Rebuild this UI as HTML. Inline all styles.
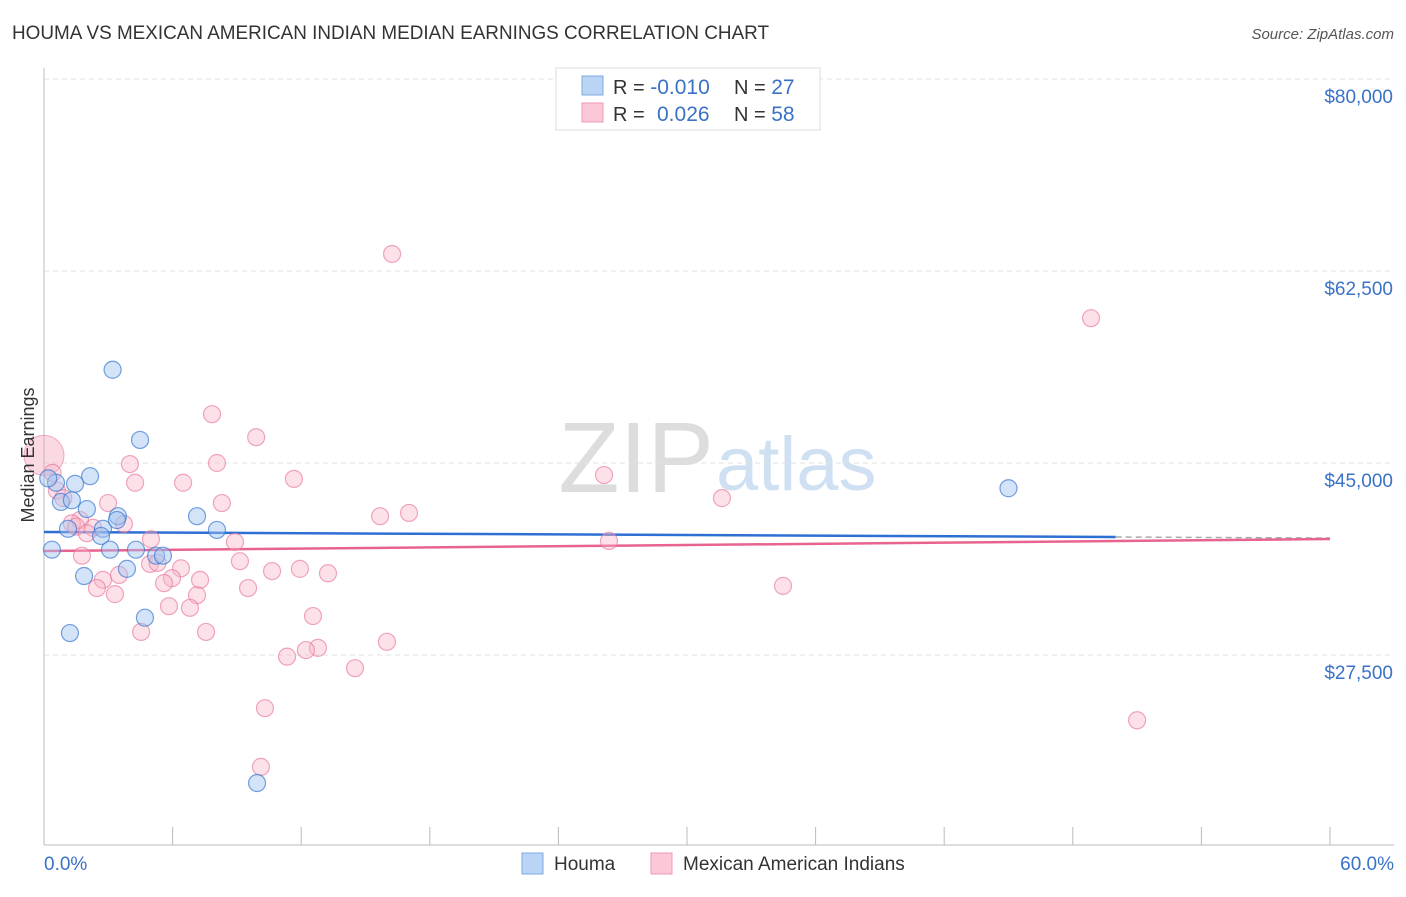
<!DOCTYPE html>
<html><head><meta charset="utf-8"><style>
body{margin:0;background:#fff;font-family:"Liberation Sans",sans-serif}
svg text{font-family:"Liberation Sans",sans-serif}
</style></head><body>
<svg id="chart" width="1406" height="892" xmlns="http://www.w3.org/2000/svg">
<text x="12" y="39" font-size="19" fill="#333" textLength="757" lengthAdjust="spacingAndGlyphs">HOUMA VS MEXICAN AMERICAN INDIAN MEDIAN EARNINGS CORRELATION CHART</text>
<text x="1394" y="39" font-size="15" fill="#555" text-anchor="end" font-style="italic">Source: ZipAtlas.com</text>
<text x="714" y="492" font-size="100" fill="#ddd" text-anchor="end" font-family="Liberation Serif">ZIP</text>
<text x="716" y="490" font-size="76" fill="#cfe0f3">atlas</text>
<g id="grid"></g><g id="axes"></g><g id="trend"></g><g id="pts"></g>
<text transform="translate(34,455) rotate(-90)" font-size="18" fill="#333" text-anchor="middle">Median Earnings</text>
<text x="44" y="870" font-size="19" fill="#3a72c8">0.0%</text>
<text x="1394" y="870" font-size="19" fill="#3a72c8" text-anchor="end">60.0%</text>
<g>
<rect x="556" y="68" width="264" height="62" fill="#fff" stroke="#ddd"/>
<rect x="582" y="76" width="21" height="19" fill="#b9d4f5" stroke="#7fa8e0"/>
<rect x="582" y="103" width="21" height="19" fill="#fcc8d8" stroke="#ef9ab5"/>
<text x="613" y="94" font-size="20" fill="#333">R = <tspan fill="#3a72c8" font-size="21">-0.010</tspan></text>
<text x="734" y="94" font-size="20" fill="#333">N = <tspan fill="#3a72c8" font-size="21">27</tspan></text>
<text x="613" y="121" font-size="20" fill="#333">R = </text>
<text x="657" y="121" font-size="21" fill="#3a72c8">0.026</text>
<text x="734" y="121" font-size="20" fill="#333">N = <tspan fill="#3a72c8" font-size="21">58</tspan></text>
</g>
<g>
<rect x="522" y="853" width="21" height="21" fill="#b9d4f5" stroke="#7fa8e0"/>
<text x="554" y="870" font-size="19" fill="#333">Houma</text>
<rect x="651" y="853" width="21" height="21" fill="#fcc8d8" stroke="#ef9ab5"/>
<text x="683" y="870" font-size="19" fill="#333">Mexican American Indians</text>
</g>
</svg>
<script>
const yTicks=[80000,62500,45000,27500];
const yTickLabels=["$80,000","$62,500","$45,000","$27,500"];
const xTicks=[0,6,12,18,24,30,36,42,48,54,60];
const houmaX=[3.2,4.48,2.15,0.56,1.45,0.79,2.0,3.45,7.14,1.12,2.75,2.66,8.07,0.37,3.08,4.29,5.23,5.55,3.87,1.87,4.71,1.21,9.94,45.0,0.2,3.4,1.3];
const houmaY=[53500,47100,43800,43200,43100,41450,40800,40150,40150,39000,39000,38350,38900,37100,37100,37100,36550,36550,35350,34700,30900,29500,15830,42700,43600,39800,41600];
const mexX=[16.24,48.85,7.84,9.9,4.01,8.07,26.13,11.66,6.49,4.25,0.4,0.6,31.63,2.99,8.3,17.03,15.68,1.68,2.29,3.73,1.3,4.99,8.91,26.36,1.77,9.14,4.95,5.3,6.39,10.64,11.94,13.25,3.5,2.75,5.97,7.28,5.6,2.47,9.52,3.31,7.14,34.48,5.83,6.81,12.55,4.53,7.56,16.0,12.78,12.22,11.34,14.51,10.31,51.0,10.12,1.5,2.0,0.9];
const mexY=[64050,58200,49450,47350,44900,45000,43900,43550,43200,43200,44100,42500,41800,41350,41350,40450,40150,39800,39100,39450,39500,38050,37800,37900,36550,36050,35800,35900,35400,35150,35350,34950,34800,34350,34500,34350,34050,33600,33600,33050,32950,33800,31950,31800,31050,29600,29600,28700,28150,27950,27350,26300,22650,21550,17300,39200,38600,41800];
const bigX=[0]; const bigY=[45700];
const blueTrendX=[0,50,60]; const blueTrendY=[38710,38255,38160];
const pinkTrendX=[0,60]; const pinkTrendY=[36980,38070];
const sx=p=>44+p/60*1286, sy=v=>79+(80000-v)/17500*192;
const NS="http://www.w3.org/2000/svg";
function mk(tag,attrs,parent){const e=document.createElementNS(NS,tag);for(const k in attrs)e.setAttribute(k,attrs[k]);document.getElementById(parent).appendChild(e);return e;}
yTicks.forEach((v,i)=>{
 let l=mk('line',{x1:44,x2:1394,y1:sy(v),y2:sy(v),stroke:'#e2e2e2','stroke-dasharray':'5,4'},'grid');
 
 
 let t=mk('text',{x:1393,y:sy(v)+24,'font-size':19,fill:'#3a72c8','text-anchor':'end'},'grid');t.textContent=yTickLabels[i];
 
 
});
let ax=mk('line',{x1:44,x2:44,y1:68,y2:845,stroke:'#bbb'},'axes');


let bx=mk('line',{x1:44,x2:1394,y1:845,y2:845,stroke:'#bbb'},'axes');


xTicks.forEach(p=>{let t=mk('line',{x1:sx(p),x2:sx(p),y1:827,y2:845,stroke:'#bbb'},'axes');
 
 });
let b1=mk('line',{x1:sx(blueTrendX[0]),y1:sy(blueTrendY[0]),x2:sx(blueTrendX[1]),y2:sy(blueTrendY[1]),stroke:'#2e6fd4','stroke-width':2.5},'trend');


let b2=mk('line',{x1:sx(blueTrendX[1]),y1:sy(blueTrendY[1]),x2:sx(blueTrendX[2]),y2:sy(blueTrendY[2]),stroke:'#aaa','stroke-width':1.5,'stroke-dasharray':'6,4'},'trend');


let p1=mk('line',{x1:sx(pinkTrendX[0]),y1:sy(pinkTrendY[0]),x2:sx(pinkTrendX[1]),y2:sy(pinkTrendY[1]),stroke:'#e8648e','stroke-width':2.5},'trend');


bigX.forEach((x,i)=>{let c=mk('circle',{cx:sx(x),cy:sy(bigY[i]),r:20,fill:'rgba(245,160,185,0.4)',stroke:'rgba(232,120,155,0.6)'},'pts');
 
 });
mexX.forEach((x,i)=>{let c=mk('circle',{cx:sx(x),cy:sy(mexY[i]),r:8.5,fill:'rgba(248,180,200,0.4)',stroke:'rgba(232,120,155,0.65)','stroke-width':1.2},'pts');
 
 });
houmaX.forEach((x,i)=>{let c=mk('circle',{cx:sx(x),cy:sy(houmaY[i]),r:8.5,fill:'rgba(160,195,240,0.45)',stroke:'rgba(60,120,210,0.7)','stroke-width':1.2},'pts');
 
 });
</script>
</body></html>
